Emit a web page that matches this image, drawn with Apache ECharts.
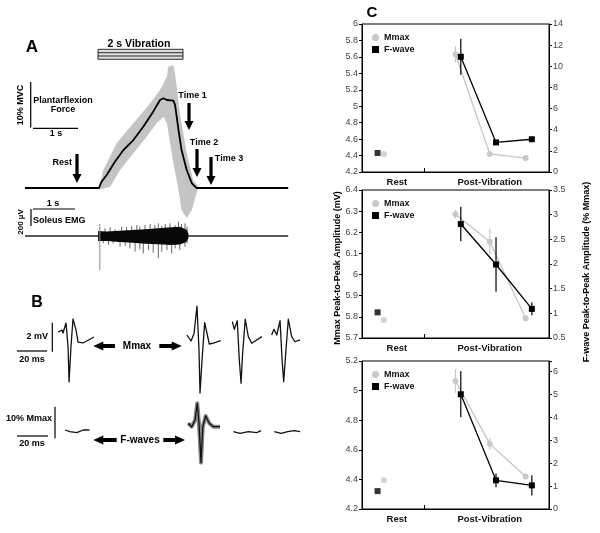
<!DOCTYPE html>
<html><head><meta charset="utf-8">
<script src="https://cdn.jsdelivr.net/npm/echarts@6/dist/echarts.min.js"></script>
<style>html,body{margin:0;padding:0;background:#fff}#c{width:600px;height:533px}</style>
</head><body><div id="c"></div>
<script>
// ---------- Panel A data (time in s, force in %MVC, EMG in µV) ----------
const forceTrace = [[0,0],[1.72,0],[1.78,1.37],[1.90,2.83],[2.09,5.72],[2.29,8.26],[2.52,10.43],[2.75,13.33],[2.98,16.6],[3.14,19.13],[3.22,19.5],[3.30,19.13],[3.45,18.98],[3.49,18.04],[3.57,12.6],[3.64,8.26],[3.76,3.91],[3.88,1.0],[3.99,0],[6.12,0]];
const forceBandUpper = [[1.72,0],[1.82,3.91],[2.13,9.72],[2.52,14.07],[2.91,18.41],[3.14,21.3],[3.30,24.2],[3.33,26.4],[3.45,26.7],[3.49,24.9],[3.60,16.3],[3.76,7.6],[3.91,1.74],[4.03,0.28]];
const forceBandLower = [[1.72,-0.4],[1.98,0.28],[2.21,3.91],[2.52,7.54],[2.83,11.15],[3.06,14.07],[3.22,15.5],[3.30,14.07],[3.45,5.37],[3.57,-0.43],[3.64,-4.78],[3.76,-6.5],[3.88,-4.78],[3.99,-1.09]];
const emgBaseline = [[0,0],[6.12,0]];
const emgCoreUpper = [[1.70,45],[1.9,40],[2.2,48],[2.5,55],[2.8,62],[3.1,70],[3.4,80],[3.6,85],[3.75,60],[3.8,25]];
const emgCoreLower = [[1.70,-45],[1.9,-45],[2.2,-55],[2.5,-62],[2.8,-70],[3.1,-75],[3.4,-82],[3.6,-78],[3.75,-55],[3.8,-20]];
const emgPeaksUp = [[1.86,70],[1.98,79],[2.09,61],[2.25,85],[2.36,79],[2.48,91],[2.60,100],[2.67,85],[2.79,100],[2.91,109],[3.02,100],[3.10,115],[3.18,91],[3.26,109],[3.37,115],[3.49,100],[3.57,130],[3.64,109],[3.72,115],[3.77,85]];
const emgPeaksDown = [[1.82,-67],[1.94,-82],[2.05,-67],[2.21,-97],[2.33,-91],[2.44,-112],[2.56,-142],[2.67,-121],[2.75,-158],[2.87,-127],[2.98,-152],[3.10,-203],[3.18,-142],[3.30,-127],[3.41,-158],[3.49,-112],[3.60,-127],[3.72,-97],[3.77,-67]];
const emgSpike = [[1.74,110],[1.74,-310]];

// ---------- Panel B data (time in ms, amplitude in mV / %Mmax) ----------
const mwaveRest = [[2.1,0.2],[4.8,0.33],[5.5,0.13],[7.6,0.8],[9.0,-0.8],[9.7,-3.13],[11.0,-0.8],[12.4,1.07],[14.5,0.33],[15.9,-0.47],[19.3,-0.53],[26.9,-0.13]];
const mwaveT1 = [[91.0,0],[93.8,-0.4],[95.9,0.1],[97.9,1.93],[99.3,-1.0],[100.0,-3.87],[101.4,-1.67],[103.2,0.82],[104.8,0.13],[106.4,-0.6],[109.7,-0.53],[114.3,-0.38]];
const mwaveT2 = [[122.3,0.89],[123.7,0.38],[125.7,0.95],[127.1,-1.67],[128.3,-3.22],[129.4,-1.2],[131.2,1.05],[133.3,-0.11],[135.7,-0.55],[142.6,-0.11]];
const mwaveT3 = [[149.4,0],[151.0,0.38],[152.9,0],[155.2,0.95],[156.6,-1.67],[157.7,-3.11],[159.1,-1.22],[160.9,1.05],[163.2,-0.11],[165.5,-0.45],[169.0,-0.33]];
const fwaveRest = [[6.9,0.32],[10.3,-0.23],[15.0,-0.55],[19.5,0.32],[23.7,0.32]];
const fwaveT1 = [[91.9,2.48],[94.3,1.39],[96.6,3.55],[98.1,8.94],[99.3,2.48],[100.7,-10.2],[101.9,1.39],[103.9,4.84],[106.4,2.48],[109.2,1.39],[113.8,1.39]];
const fwaveT2 = [[123.0,-0.23],[127.6,-0.74],[133.3,-0.23],[139.1,-0.55],[142.1,0.1]];
const fwaveT3 = [[151.2,-0.23],[155.9,-0.74],[160.5,-0.23],[165.1,0.1],[169.0,-0.23]];

// ---------- Panel C data ----------
const cCategories = ['Rest', 'Post-Vibration'];
const cCategoryPos = [1.12, 4.1];
const cX_mmax = [0.7, 3.0, 4.1, 5.25];
const cX_fwave = [0.5, 3.17, 4.3, 5.45];
const mmax = [[4.42,5.63,4.42,4.37],[5.785,6.285,6.155,5.793],[4.395,5.065,4.64,4.42]];
const mmaxErr = [[0,0.1,0,0],[0,0.02,0.06,0],[0,0.08,0.04,0.02]];
const fwave = [[1.8,10.9,2.8,3.1],[1.02,2.81,1.99,1.09],[0.78,5.0,1.25,1.03]];
const fwaveErr = [[0,1.7,0,0],[0,0.35,0.55,0.13],[0,1.0,0.3,0.44]];
const leftTicks = [{min:4.2,max:6,interval:0.2},{min:5.7,max:6.4,interval:0.1},{min:4.2,max:5.2,interval:0.2}];
const rightTicks = [{min:0,max:14,interval:2},{min:0.5,max:3.5,interval:0.5},{min:0,max:6.45,interval:1}];

const FF = '"Liberation Sans", Arial, sans-serif';
const chart = echarts.init(document.getElementById('c'), null, {renderer:'canvas'});

const grids = [], xAxes = [], yAxes = [], series = [], legends = [];
function hiddenGrid(left, top, width, height, xr, yr){
  grids.push({left, top, width, height, show:false, outerBoundsMode:'none'});
  const gi = grids.length - 1;
  xAxes.push({type:'value', gridIndex:gi, min:xr[0], max:xr[1], show:false});
  yAxes.push({type:'value', gridIndex:gi, min:yr[0], max:yr[1], show:false});
  return gi;
}
function polySeries(xi, yi, pts, fill, z){
  return {type:'custom', xAxisIndex:xi, yAxisIndex:yi, data:[pts[0]], silent:true, z, clip:false,
    renderItem:(p, api) => ({type:'polygon', shape:{points: pts.map(q => api.coord(q))}, style:{fill}})};
}
function traceSeries(xi, yi, pts, color, width, z){
  return {type:'line', xAxisIndex:xi, yAxisIndex:yi, data:pts, showSymbol:false, symbol:'none', silent:true, z,
    lineStyle:{color, width, join:'round'}, clip:false};
}
function stickSeries(xi, yi, pts, color, width, z){
  return {type:'custom', xAxisIndex:xi, yAxisIndex:yi, data:pts, silent:true, z, clip:false,
    renderItem:(p, api) => {
      const a = api.coord([api.value(0), 0]), b = api.coord([api.value(0), api.value(1)]);
      return {type:'line', shape:{x1:a[0], y1:a[1], x2:b[0], y2:b[1]}, style:{stroke:color, lineWidth:width}};
    }};
}

// Panel A force
const gF = hiddenGrid(25, 59.2, 263.2, 161, [0,6.12], [-7,28]);
series.push(polySeries(gF, gF, forceBandUpper.concat(forceBandLower.slice().reverse()), '#c4c4c4', 1));
series.push(traceSeries(gF, gF, forceTrace, '#000', 1.8, 3));
// Panel A EMG
const gE = hiddenGrid(25, 203, 263.2, 77, [0,6.12], [-400,300]);
series.push(traceSeries(gE, gE, emgBaseline, '#222', 1.6, 2));
series.push(stickSeries(gE, gE, emgPeaksUp, '#555', 0.9, 2));
series.push(stickSeries(gE, gE, emgPeaksDown, '#555', 0.9, 2));
series.push(polySeries(gE, gE, emgCoreUpper.concat(emgCoreLower.slice().reverse()), '#080808', 3));
series.push(traceSeries(gE, gE, emgSpike, '#888', 1, 4));
// Panel B
const gM = hiddenGrid(55, 308, 250, 93, [0,172.4], [-4.4,1.8]);
[mwaveRest, mwaveT1, mwaveT2, mwaveT3].forEach(w => series.push(traceSeries(gM, gM, w, '#111', 1.3, 3)));
const gW = hiddenGrid(55, 393.8, 250, 77.5, [0,172.4], [-13,12]);
series.push(traceSeries(gW, gW, fwaveT1, '#8a8a8a', 4, 2));
[fwaveRest, fwaveT1, fwaveT2, fwaveT3].forEach(w => series.push(traceSeries(gW, gW, w, '#111', 1.3, 3)));

// Panel C
const cTops = [24, 190, 361];
const tickLabel = {fontSize:9, color:'#444', fontFamily:FF, margin:4};
function errSeries(xi, yi, xs, ys, es, color, z){
  return {type:'custom', xAxisIndex:xi, yAxisIndex:yi, z, silent:true,
    data: xs.map((x, k) => [x, ys[k], es[k]]),
    renderItem:(p, api) => {
      const e = api.value(2); if (!e) return null;
      const a = api.coord([api.value(0), api.value(1) - e]);
      const b = api.coord([api.value(0), api.value(1) + e]);
      return {type:'line', shape:{x1:a[0], y1:a[1], x2:b[0], y2:b[1]}, style:{stroke:color, lineWidth:1.2}};
    }};
}
for (let i = 0; i < 3; i++) {
  grids.push({left:362, top:cTops[i], width:187, height:148, show:true, borderColor:'#000', borderWidth:1, outerBoundsMode:'none'});
  const gi = grids.length - 1;
  const xi = xAxes.length;
  xAxes.push({type:'value', gridIndex:gi, min:0, max:6,
    axisLine:{show:true, lineStyle:{color:'#000', width:1}},
    axisTick:{show:true, inside:true, length:4, customValues:[2], lineStyle:{color:'#000'}},
    axisLabel:{show:true, customValues:cCategoryPos, formatter:v => cCategories[v < 2 ? 0 : 1],
      fontSize:9.5, fontWeight:'bold', color:'#111', fontFamily:FF, margin:5},
    splitLine:{show:false}});
  const yl = yAxes.length;
  yAxes.push({type:'value', gridIndex:gi, position:'left', min:leftTicks[i].min, max:leftTicks[i].max, interval:leftTicks[i].interval,
    axisLine:{show:true, lineStyle:{color:'#000'}}, axisTick:{show:true, length:3, lineStyle:{color:'#000'}},
    axisLabel:tickLabel, splitLine:{show:false}});
  const yr = yAxes.length;
  yAxes.push({type:'value', gridIndex:gi, position:'right', min:rightTicks[i].min, max:rightTicks[i].max, interval:rightTicks[i].interval,
    axisLine:{show:true, lineStyle:{color:'#000'}}, axisTick:{show:true, length:3, lineStyle:{color:'#000'}},
    axisLabel:Object.assign({}, tickLabel, {formatter: v => (Math.abs(v*2 - Math.round(v*2)) < 1e-6 && v <= rightTicks[i].max - (i===2?0.4:0) + 1e-6) ? String(+v.toFixed(2)) : ''}),
    splitLine:{show:false}});
  const mPost = cX_mmax.slice(1).map((x,k) => [x, mmax[i][k+1]]);
  const fPost = cX_fwave.slice(1).map((x,k) => [x, fwave[i][k+1]]);
  series.push(errSeries(xi, yl, cX_mmax, mmax[i], mmaxErr[i], '#c8c8c8', 5));
  series.push({type:'line', name:'Mmax', xAxisIndex:xi, yAxisIndex:yl, data:mPost, symbol:'circle', symbolSize:6, z:6,
    itemStyle:{color:'#c8c8c8'}, lineStyle:{color:'#c4c4c4', width:1.3}, silent:true});
  series.push({type:'scatter', name:'Mmax', xAxisIndex:xi, yAxisIndex:yl, data:[[cX_mmax[0], mmax[i][0]]], symbol:'circle', symbolSize:6, z:6,
    itemStyle:{color:'#c8c8c8'}, silent:true});
  series.push(errSeries(xi, yr, cX_fwave, fwave[i], fwaveErr[i], '#000', 7));
  series.push({type:'line', name:'F-wave', xAxisIndex:xi, yAxisIndex:yr, data:fPost, symbol:'rect', symbolSize:6, z:8,
    itemStyle:{color:'#000'}, lineStyle:{color:'#000', width:1.3}, silent:true});
  series.push({type:'scatter', name:'F-wave', xAxisIndex:xi, yAxisIndex:yr, data:[[cX_fwave[0], fwave[i][0]]], symbol:'rect', symbolSize:6, z:8,
    itemStyle:{color:'#000'}, silent:true});
  legends.push({left:372, top:cTops[i] + 9, orient:'vertical', padding:0, itemGap:3, itemWidth:7, itemHeight:7,
    selectedMode:false, textStyle:{fontSize:9, fontWeight:'bold', color:'#111', fontFamily:FF},
    data:[{name:'Mmax', icon:'circle'}, {name:'F-wave', icon:'rect'}]});
}

// ---------- annotations ----------
function txt(text, x, y, size, opts){
  opts = opts || {};
  return {type:'text', x, y, rotation:opts.rot || 0, z:20, silent:true,
    style:{text, x:0, y:0, fill:'#000', align:opts.align || 'center', verticalAlign:'middle',
      font:(opts.weight || 'bold') + ' ' + size + 'px ' + FF}};
}
function ln(x1, y1, x2, y2, w){
  return {type:'line', z:20, silent:true, shape:{x1, y1, x2, y2}, style:{stroke:'#000', lineWidth:w || 1.2}};
}
function downArrow(x, y1, y2){
  return {type:'polygon', z:20, silent:true, shape:{points:[[x-1.6,y1],[x+1.6,y1],[x+1.6,y2-9],[x+4.5,y2-9],[x,y2],[x-4.5,y2-9],[x-1.6,y2-9]]}, style:{fill:'#000'}};
}
function hArrow(tip, end, y){
  const d = end > tip ? 1 : -1;
  const hx = tip + d * 10;
  return {type:'polygon', z:20, silent:true, shape:{points:[[tip,y],[hx,y-4.5],[hx,y-2],[end,y-2],[end,y+2],[hx,y+2],[hx,y+4.5]]}, style:{fill:'#000'}};
}
const R = Math.PI / 2;
const graphic = [
  txt('A', 32, 47, 17),
  txt('2 s Vibration', 139, 44, 10.5),
  {type:'rect', z:20, silent:true, shape:{x:98, y:49.3, width:85, height:10}, style:{fill:'#dcdcdc', stroke:'#000', lineWidth:0.8}},
  ln(98, 52.7, 183, 52.7, 0.8), ln(98, 56, 183, 56, 0.8),
  txt('10% MVC', 21, 105, 9, {rot:R}),
  ln(30.7, 82, 30.7, 127.5), ln(33, 128.3, 78, 128.3),
  txt('Plantarflexion', 63, 101, 9), txt('Force', 63, 110, 9),
  txt('1 s', 56, 134, 9),
  txt('Rest', 72, 163, 9, {align:'right'}), downArrow(77, 154, 183),
  txt('Time 1', 192.5, 96, 9), downArrow(189, 103, 130),
  txt('Time 2', 204, 143, 9), downArrow(197, 149, 177),
  txt('Time 3', 229, 159, 9), downArrow(211, 157, 185),
  txt('1 s', 53, 204, 9), ln(33, 209, 75, 209), ln(31, 209, 31, 226),
  txt('200 \u00b5V', 21, 222, 8, {rot:R}),
  txt('Soleus EMG', 33, 221, 9, {align:'left'}),
  txt('B', 37, 303, 16),
  txt('2 mV', 48, 337, 9, {align:'right'}), ln(52.3, 322.7, 52.3, 351.7), ln(17, 351, 47, 351),
  txt('20 ms', 32, 360, 9),
  hArrow(93.3, 115, 346), txt('Mmax', 137, 346, 10), hArrow(181.7, 159.3, 346),
  txt('10% Mmax', 52, 419, 9, {align:'right'}), ln(55, 406.7, 55, 438.3), ln(17, 436, 48, 436),
  txt('20 ms', 32, 444, 9),
  hArrow(93.3, 116.7, 440), txt('F-waves', 140, 440, 10), hArrow(185, 163.3, 440),
  txt('C', 372, 13, 15),
  txt('Mmax Peak-to-Peak Amplitude (mV)', 338, 268, 9, {rot:R}),
  txt('F-wave Peak-to-Peak Amplitude (% Mmax)', 587, 272, 9, {rot:R})
];

chart.setOption({
  animation:false,
  backgroundColor:'#fff',
  grid:grids, xAxis:xAxes, yAxis:yAxes, series, legend:legends, graphic
});
</script></body></html>
